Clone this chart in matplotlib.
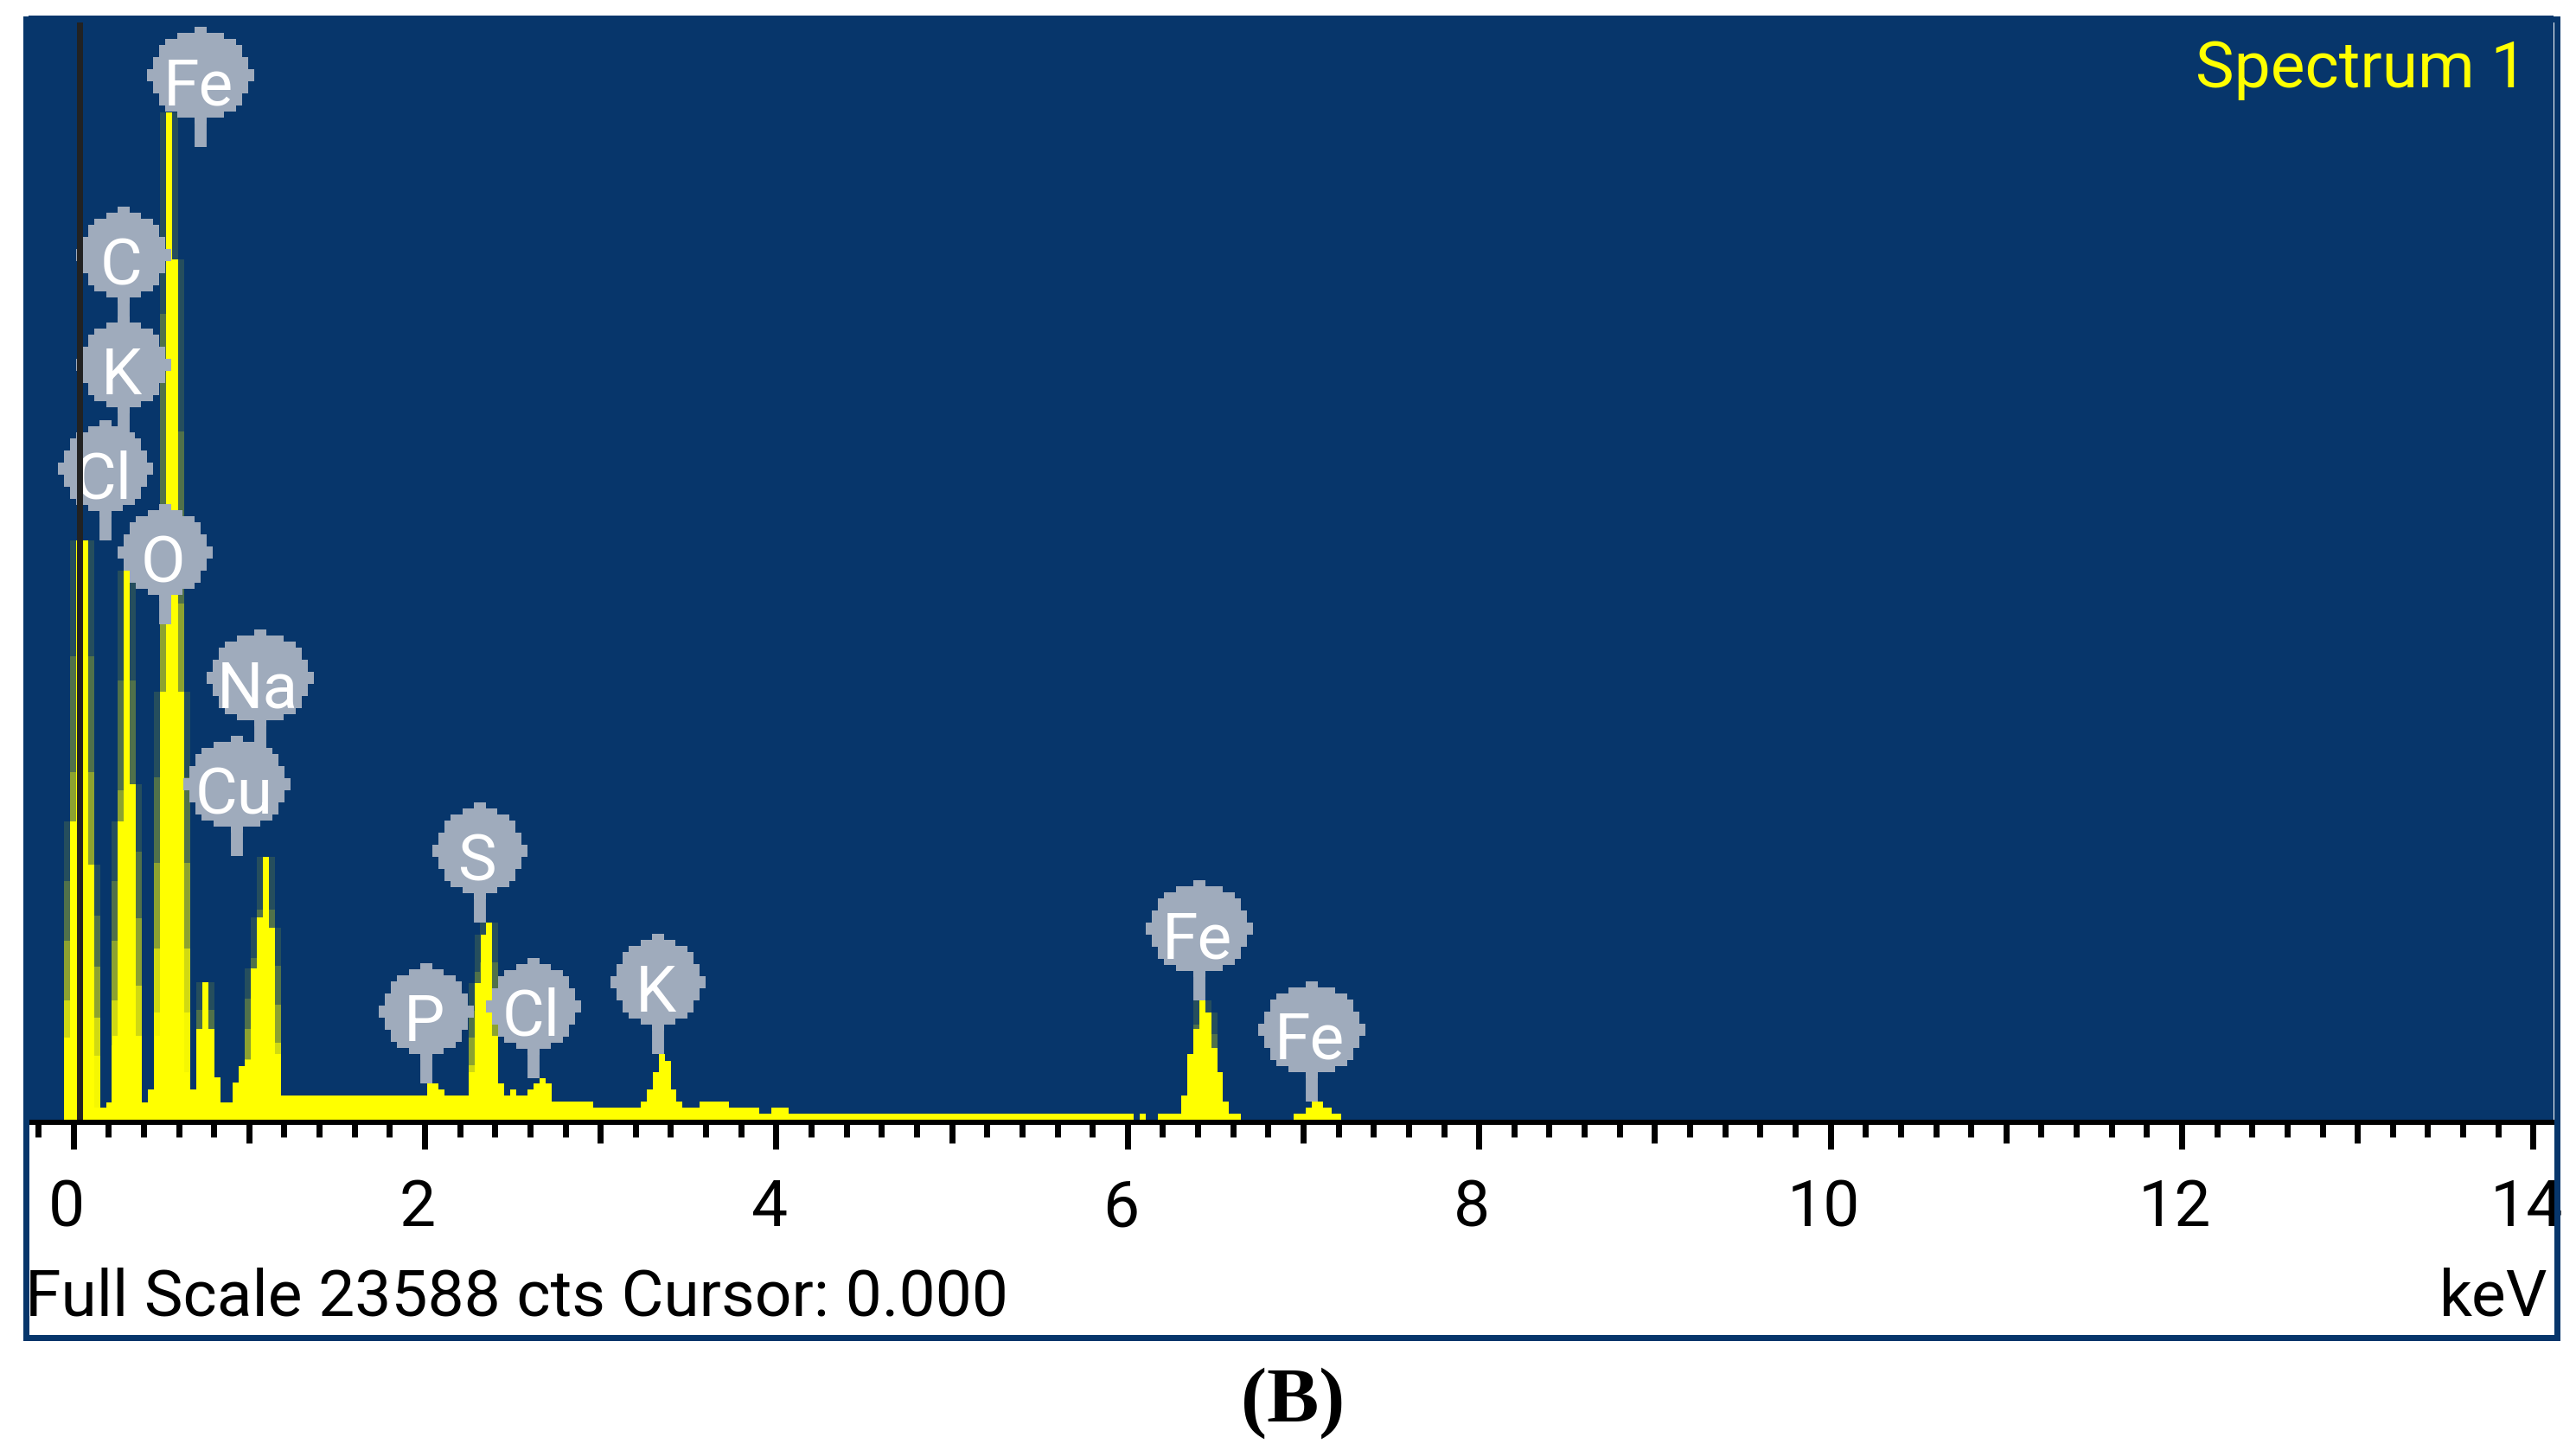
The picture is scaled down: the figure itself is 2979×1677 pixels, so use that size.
import numpy as np
import matplotlib
matplotlib.use('Agg')
import matplotlib.pyplot as plt
import matplotlib.transforms as mtransforms
from matplotlib.patches import Rectangle

W, H = 2979, 1677
FULL_SCALE = 23588

# left edge of each channel (keV) and its counts
energy = [-0.052, -0.018, 0.017, 0.086, 0.120, 0.155, 0.189, 0.223, 0.253, 0.287,
          0.322, 0.356, 0.391, 0.425, 0.460, 0.494, 0.529, 0.563, 0.597, 0.632,
          0.666, 0.701, 0.735, 0.770, 0.804, 0.839, 0.873, 0.907, 0.942, 0.976,
          1.011, 1.045, 1.080, 1.114, 1.149, 1.183, 1.217, 1.980, 2.015, 2.079,
          2.113, 2.217, 2.251, 2.285, 2.320, 2.349, 2.384, 2.418, 2.453, 2.487,
          2.522, 2.586, 2.620, 2.655, 2.689, 2.723, 2.758, 2.960, 3.230, 3.265,
          3.299, 3.334, 3.368, 3.403, 3.432, 3.467, 3.565, 3.732, 3.905, 3.974,
          4.072, 6.035, 6.070, 6.104, 6.173, 6.277, 6.306, 6.341, 6.375, 6.410,
          6.444, 6.478, 6.513, 6.543, 6.577, 6.646, 6.946, 7.015, 7.050, 7.114,
          7.163, 7.217]
counts = [1755, 6372, 12375, 5449, 259, 259, 369, 1792, 6372, 11728,
          7166, 1792, 369, 646, 1792, 9142, 21518, 18377, 9142, 1016,
          646, 1939, 2937, 1939, 905, 369, 369, 794, 1145, 1274,
          3232, 4322, 5615, 4100, 1404, 517, 517, 517, 776, 646,
          517, 517, 1016, 2918, 3953, 4211, 1792, 776, 517, 646,
          517, 646, 776, 887, 776, 388, 388, 259, 388, 646,
          1016, 1404, 1256, 646, 388, 259, 388, 259, 129, 259,
          129, 0, 129, 0, 129, 129, 517, 1404, 1939, 2549,
          2290, 1533, 1016, 388, 129, 0, 129, 259, 388, 259,
          129, 0]

# element badges: label, energy under the stem, counts at the stem tip
badge_labels = ['Fe', 'C', 'K', 'Cl', 'O', 'Na', 'Cu', 'S', 'P', 'Cl', 'K', 'Fe', 'Fe']
badge_kev = [0.725, 0.288, 0.288, 0.184, 0.524, 1.065, 0.932, 2.315, 2.010, 2.620, 3.329, 6.410, 7.050]
badge_cts = [20779, 16937, 14591, 12375, 10583, 7905, 5633, 4211, 776, 887, 1404, 2549, 388]

major_ticks = [0, 2, 4, 6, 8, 10, 12, 14]
tick_labels = ['0', '2', '4', '6', '8', '10', '12', '14']
cursor_kev = 0.034
cursor_top = 23457

BLUE = '#07366B'
YELLOW = '#FFFF00'
GREY = '#9FABBC'
FONT = 'Roboto'
TXT = 54

energy = np.array(energy)
counts = np.array(counts)

fig = plt.figure(figsize=(W / 100, H / 100), dpi=100, facecolor='white')


def px(x, y):
    return x / W, 1 - y / H


# axes covers the blue plot area, 0 keV at pixel 84.6, 203.2 px per keV
ax = fig.add_axes([33 / W, 1 - 1295 / H, 2920 / W, 1277 / H], facecolor=BLUE)
ax.set_xlim((33 - 84.6) / 203.2, (2953 - 84.6) / 203.2)
ax.set_ylim(0, FULL_SCALE)
kev_per_px = 1 / 203.2
cts_per_px = FULL_SCALE / 1277


def badge_outline(kev, cy, width):
    # blocky disc on a 7 px grid with small nibs on the four sides, as in the screen grab
    a = width / 2 - 7
    xs, ys = [], []
    rows = np.arange(-56, 56, 7)
    for r in rows:
        mid = abs(r + 3.5)
        if mid > 49:
            h = 7
        elif mid > 42:
            h = a - 28
        elif mid > 35:
            h = a - 14
        elif mid > 21:
            h = a - 7
        elif mid > 7:
            h = a
        else:
            h = a + 7
        xs += [h, h]
        ys += [r, r + 7]
    xs = xs + [-v for v in xs[::-1]]
    ys = ys + ys[::-1]
    return kev + np.array(xs) * kev_per_px, cy + np.array(ys) * cts_per_px


# blurred sides of the tall peaks
tall = np.where(counts > 2000, counts, 0)
for shift in (-0.034, 0.034):
    for scale, alpha in ((1.0, 0.12), (0.8, 0.2), (0.6, 0.35), (0.4, 0.6), (0.25, 0.8)):
        ax.fill_between(energy + shift, tall * scale, step='post', color=YELLOW,
                        alpha=alpha, lw=0, zorder=2)
ax.fill_between(energy, counts, step='post', color=YELLOW, lw=0, zorder=3)

for label, kev, cts in zip(badge_labels, badge_kev, badge_cts):
    cy = cts + 83 * cts_per_px
    width = 124 if label in ('Fe', 'Na', 'Cu') else 110
    ax.plot([kev, kev], [cts, cy], color=GREY, lw=10, solid_capstyle='butt', zorder=4)
    bx, by = badge_outline(kev, cy, width)
    ax.fill(bx, by, color=GREY, lw=0, zorder=5)
    ax.text(kev - 3 * kev_per_px, cy - 6 * cts_per_px, label, color='white', fontsize=TXT, family=FONT,
            ha='center', va='center_baseline', zorder=6)

ax.plot([cursor_kev, cursor_kev], [0, cursor_top], color='#222222', lw=5,
        solid_capstyle='butt', zorder=7)

for side in ('top', 'left', 'right'):
    ax.spines[side].set_visible(False)
ax.spines['bottom'].set_position(('outward', 2.16))
ax.spines['bottom'].set_linewidth(4.3)
ax.spines['bottom'].set_color('black')
ax.set_yticks([])

minor_ticks = [t for t in np.arange(-1, 71) * 0.2 if abs(t / 2 - round(t / 2)) > 1e-6]
ax.set_xticks(major_ticks)
ax.set_xticklabels(tick_labels, fontsize=TXT, family=FONT)
ax.set_xticks(minor_ticks, minor=True)
ax.tick_params(axis='x', which='major', direction='out', length=22.3, width=5, pad=24)
ax.tick_params(axis='x', which='minor', direction='out', length=12.2, width=5)
for t, loc in zip(ax.xaxis.get_minor_ticks(), minor_ticks):
    if abs(loc - round(loc)) < 1e-6:
        t.tick1line.set_markersize(17.3)

# tick labels sit a little left of their ticks
shift_left = mtransforms.ScaledTranslation(-8 / 100, 0, fig.dpi_scale_trans)
for lab in ax.get_xticklabels():
    lab.set_transform(lab.get_transform() + shift_left)

x0, y0 = px(29, 1522)
fig.text(x0, y0, 'Full Scale 23588 cts Cursor: 0.000', fontsize=TXT, family=FONT, color='black', va='baseline')
x0, y0 = px(2946, 1522)
fig.text(x0, y0, 'keV', fontsize=TXT, family=FONT, color='black', ha='right', va='baseline')
x0, y0 = px(2923, 101)
fig.text(x0, y0, 'Spectrum 1', fontsize=TXT, family=FONT, color=YELLOW, ha='right', va='baseline', zorder=6)
x0, y0 = px(1495, 1645)
fig.text(x0, y0, '(B)', fontsize=65, family='Liberation Serif', fontweight='bold', color='black',
         ha='center', va='baseline')

# blue frame on top, it also cuts off the 14 at the right edge
frame = Rectangle(px(29.5, 1546.5), (2956.5 - 29.5) / W, (1546.5 - 21.5) / H, transform=fig.transFigure,
                  fill=False, edgecolor=BLUE, lw=5.04, zorder=5)
fig.add_artist(frame)

fig.savefig('out.png', dpi=100)
plt.close(fig)
